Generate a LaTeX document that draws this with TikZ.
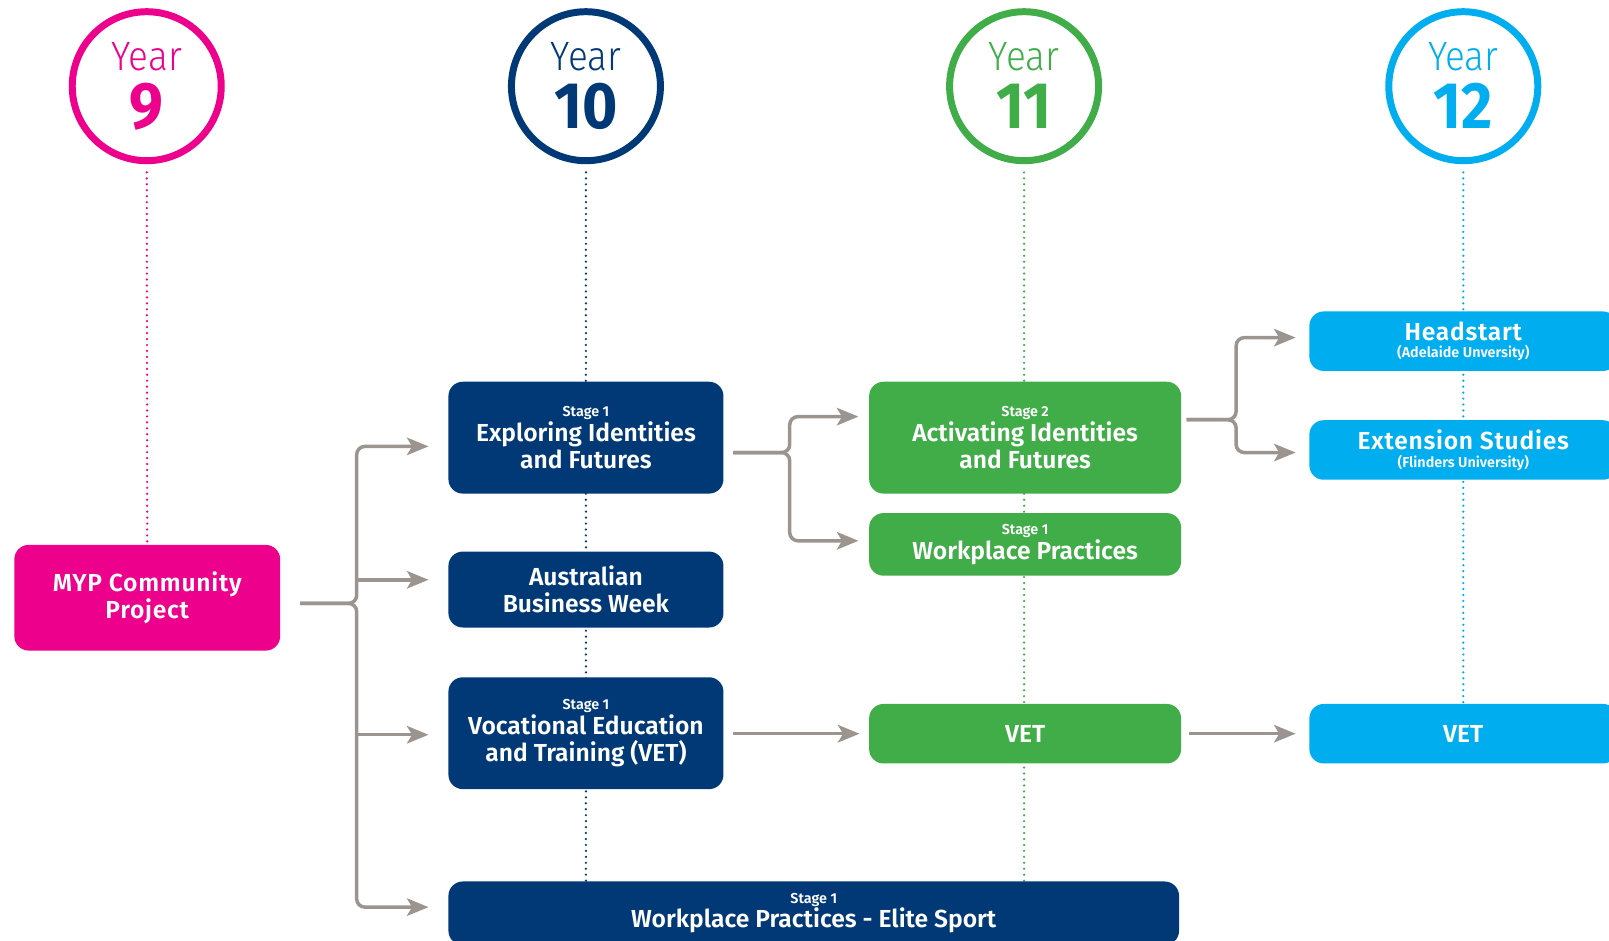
\documentclass[tikz,border=0pt]{standalone}
\usepackage{fontspec}
\setmainfont{Fira Sans}[BoldFont={Fira Sans SemiBold}]
\newfontfamily\yearfont{Fira Sans Light}[FakeStretch=0.9]
\newfontfamily\numfont{Fira Sans Bold}[FakeStretch=0.92]
\usetikzlibrary{arrows.meta,calc,backgrounds}
\definecolor{cmag}{RGB}{236,0,140}
\definecolor{cnavy}{RGB}{0,57,118}
\definecolor{cgreen}{RGB}{65,173,73}
\definecolor{ccyan}{RGB}{0,174,239}
\definecolor{carrow}{RGB}{156,149,143}
\newcommand\stagel[1]{{\fontsize{7}{8}\selectfont #1}}
\newcommand\subl[1]{{\fontsize{7}{8}\selectfont #1}}
\newcommand\spaced[1]{{\addfontfeature{LetterSpace=3}#1}}
\begin{document}
\begin{tikzpicture}[x=0.5pt,y=-0.5pt,
  box/.style={rectangle, rounded corners=7pt, text=white, align=center, inner sep=0pt,
    font=\bfseries\fontsize{12}{13}\selectfont},
  navybox/.style={box, fill=cnavy, minimum width=134pt},
  greenbox/.style={box, fill=cgreen, minimum width=152pt},
  cyanbox/.style={box, fill=ccyan, minimum width=150pt},
  yearcirc/.style={circle, line width=3.4pt, minimum size=72.6pt, inner sep=0pt},
  yeartxt/.style={font=\yearfont\fontsize{20}{20}\selectfont, inner sep=0pt, anchor=base},
  yearnum/.style={font=\numfont\fontsize{32}{32}\selectfont, inner sep=0pt, anchor=base},
  vline/.style={line width=1.2pt, dash pattern=on 0pt off 2.9pt, line cap=round},
  arr/.style={draw=carrow, line width=1.7pt, rounded corners=4pt,
    -{Stealth[length=10.5pt,width=8.5pt,inset=2.5pt]}},
  seg/.style={draw=carrow, line width=1.7pt,
    -{Stealth[length=10.5pt,width=8.5pt,inset=2.5pt]}}]
\useasboundingbox (0,0) rectangle (1568,917);
\clip (0,0) rectangle (1568,917);

% year circles
\node[yearcirc, draw=cmag]   (y9)  at (143,84) {};
\node[yearcirc, draw=cnavy]  (y10) at (571,84) {};
\node[yearcirc, draw=cgreen] (y11) at (998,84) {};
\node[yearcirc, draw=ccyan]  (y12) at (1426,84) {};
\node[yeartxt, text=cmag]   (y9a)  at (143,69) {Year};
\node[yeartxt, text=cnavy]  (y10a) at (571,69) {Year};
\node[yeartxt, text=cgreen] (y11a) at (998,69) {Year};
\node[yeartxt, text=ccyan]  (y12a) at (1426,69) {Year};
\node[yearnum, text=cmag]   (y9b)  at (143,125) {9};
\node[yearnum, text=cnavy]  (y10b) at (571,125) {10};
\node[yearnum, text=cgreen] (y11b) at (998,125) {11};
\node[yearnum, text=ccyan]  (y12b) at (1426,125) {12};

% boxes
\node[box, fill=cmag, minimum width=129.5pt, minimum height=51.5pt] (myp) at (143.5,582.5) {\spaced{MYP Community}\\\spaced{Project}};
\node[navybox, minimum height=54.5pt] (explore) at (571,426.5) {\stagel{Stage 1}\\[-1pt]Exploring Identities\\and Futures};
\node[navybox, minimum height=37pt] (abw) at (571,574.5) {Australian\\Business Week};
\node[navybox, minimum height=54.5pt] (vet10) at (571,714.5) {\stagel{Stage 1}\\[-1pt]Vocational Education\\and Training (VET)};
\node[box, fill=cnavy, minimum width=356pt, minimum height=31pt] (elite) at (793,890) {\stagel{Stage 1}\\[-1pt]Workplace Practices - Elite Sport};
\node[greenbox, minimum height=54.5pt] (activ) at (999,426.5) {\stagel{Stage 2}\\[-1pt]Activating Identities\\and Futures};
\node[greenbox, minimum height=30.5pt] (wp) at (999,530.5) {\stagel{Stage 1}\\[-1pt]Workplace Practices};
\node[greenbox, minimum height=29pt] (vet11) at (999,715) {VET};
\node[cyanbox, minimum height=29pt] (head) at (1426,332.5) {\spaced{Headstart}\\[-4.5pt]\subl{(Adelaide Unversity)}};
\node[cyanbox, minimum height=29pt] (ext) at (1426,438.5) {\spaced{Extension Studies}\\[-4.5pt]\subl{(Flinders University)}};
\node[cyanbox, minimum height=29pt] (vet12) at (1426,715) {VET};

% dotted year lines
\begin{scope}[on background layer]
\draw[vline, draw=cmag, shorten <=4pt] (y9) -- (myp);
\draw[vline, draw=cnavy, shorten <=4pt] (y10) -- (y10 |- elite.north);
\draw[vline, draw=cgreen, shorten <=4pt] (y11) -- (y11 |- elite.north);
\draw[vline, draw=ccyan, shorten <=4pt] (y12) -- (vet12);
\end{scope}

% connector end points
\coordinate (s1) at ($(myp.east)+(19,5.5)$);
\coordinate (t1) at ($(explore.west)+(-19,8.5)$);
\coordinate (t2) at ($(abw.west)+(-19,-9.5)$);
\coordinate (t3) at ($(vet10.west)+(-19,1.5)$);
\coordinate (t4) at ($(elite.west)+(-19,-6)$);
\coordinate (s2) at ($(explore.east)+(9,14.5)$);
\coordinate (t5) at ($(activ.west)+(-10,-20.5)$);
\coordinate (t6) at ($(wp.west)+(-10,-3.5)$);
\coordinate (s3) at ($(activ.east)+(5,-17.5)$);
\coordinate (t7) at ($(head.west)+(-13,-3.5)$);
\coordinate (t8) at ($(ext.west)+(-13,2.5)$);

% connectors
\draw[arr] (s1) -| ($(t1)+(-70,0)$) -- (t1);
\draw[arr] (s1) -| ($(t4)+(-70,0)$) -- (t4);
\draw[seg] ($(t2)+(-70,0)$) -- (t2);
\draw[seg] ($(t3)+(-70,0)$) -- (t3);
\draw[arr] (s2) -| ($(t5)+(-67,0)$) -- (t5);
\draw[arr] (s2) -| ($(t6)+(-67,0)$) -- (t6);
\draw[arr] (s3) -| ($(t7)+(-58,0)$) -- (t7);
\draw[arr] (s3) -| ($(t8)+(-58,0)$) -- (t8);
\draw[seg] ($(vet10.east)+(9,0.5)$) -- ($(vet11.west)+(-9,0)$);
\draw[seg] ($(vet11.east)+(7,0)$) -- ($(vet12.west)+(-13,0)$);
\end{tikzpicture}
\end{document}
